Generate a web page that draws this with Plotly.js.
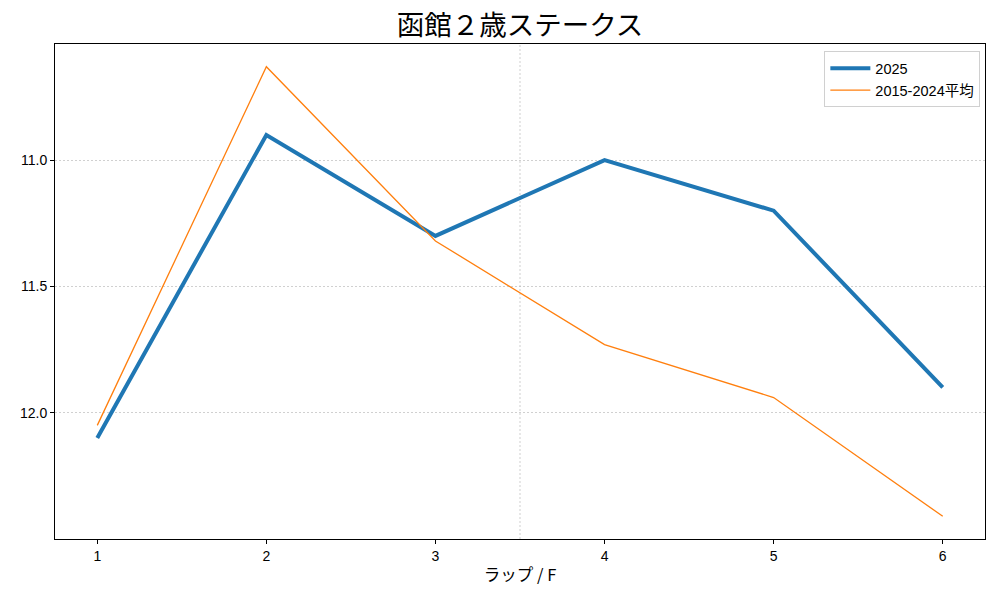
<!DOCTYPE html>
<html>
<head>
<meta charset="utf-8">
<script src="https://cdn.plot.ly/plotly-3.0.1.min.js"></script>
<style>
  html, body { margin: 0; padding: 0; background: #fff; }
  #chart { width: 1000px; height: 600px; }
</style>
</head>
<body>
<div id="chart"></div>
<script>
// furlong index and lap times (seconds)
const furlongs = [1, 2, 3, 4, 5, 6];
const laps2025 = [12.1, 10.9, 11.3, 11.0, 11.2, 11.9];
const lapsAvg = [12.05, 10.63, 11.32, 11.73, 11.94, 12.41];
const xTicks = ['1', '2', '3', '4', '5', '6'];
const yTicks = [11.0, 11.5, 12.0];
const midLine = 3.5;

const font = '"Liberation Sans", "Noto Sans CJK JP", sans-serif';
const jpFont = '"Noto Sans CJK JP", sans-serif';

let trace2025 = {
  x: furlongs,
  y: laps2025,
  name: '2025',
  mode: 'lines',
  line: { color: '#1f77b4', width: 4 }
};

let traceAvg = {
  x: furlongs,
  y: lapsAvg,
  name: '2015-2024平均',
  mode: 'lines',
  line: { color: '#ff7f0e', width: 1.3 }
};

let layout = {
  width: 1000,
  height: 600,
  margin: { l: 55, r: 15, t: 44, b: 61 },
  paper_bgcolor: '#fff',
  plot_bgcolor: '#fff',
  font: { family: font, size: 14, color: '#000' },
  title: {
    text: '函館２歳ステークス',
    font: { family: jpFont, size: 27.5, color: '#000' },
    x: 0.52, xanchor: 'center', y: 0.957, yanchor: 'middle'
  },
  xaxis: {
    range: [0.75, 6.25],
    tickvals: furlongs,
    ticktext: xTicks,
    tickfont: { family: font, size: 14 },
    ticks: 'outside', ticklen: 4, tickcolor: '#000',
    showgrid: false, zeroline: false,
    showline: true, linecolor: '#000', linewidth: 1, mirror: true,
    title: { text: 'ラップ / F', font: { family: jpFont, size: 16.5 }, standoff: 6 }
  },
  yaxis: {
    range: [12.5, 10.54],
    tickvals: yTicks,
    ticktext: yTicks.map(v => v.toFixed(1)),
    tickfont: { family: font, size: 14 },
    ticks: 'outside', ticklen: 4, tickcolor: '#000',
    showgrid: true, gridcolor: '#b0b0b0', gridwidth: 0.6, griddash: '2px,2px',
    zeroline: false,
    showline: true, linecolor: '#000', linewidth: 1, mirror: true
  },
  shapes: [{
    type: 'line', xref: 'x', yref: 'paper',
    x0: midLine, x1: midLine, y0: 0, y1: 1,
    line: { color: '#b0b0b0', width: 0.6, dash: '2px,2px' },
    layer: 'below'
  }],
  legend: {
    x: 0.995, xanchor: 'right', y: 0.985, yanchor: 'top',
    bgcolor: 'rgba(255,255,255,0.8)', bordercolor: '#d0d0d0', borderwidth: 1,
    font: { family: font, size: 14.5 },
    tracegroupgap: 0, itemwidth: 40
  },
  showlegend: true
};

Plotly.newPlot('chart', [trace2025, traceAvg], layout, { staticPlot: true });
</script>
</body>
</html>
